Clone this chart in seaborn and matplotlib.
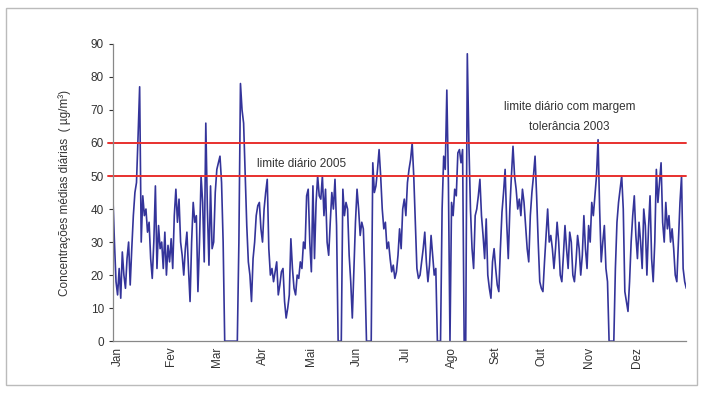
import numpy as np
import pandas as pd
import matplotlib
matplotlib.use("Agg")
import matplotlib.pyplot as plt
import seaborn as sns
from matplotlib.patches import Rectangle

months = ["Jan", "Fev", "Mar", "Abr", "Mai", "Jun", "Jul", "Ago", "Set", "Out", "Nov", "Dez"]

jan = [44, 30, 18, 14, 22, 13, 27, 20, 16, 25, 30, 17, 28, 38, 45, 48, 62, 77, 30, 44,
       38, 40, 33, 36, 25, 19, 30, 47, 22, 35, 28]
fev = [30, 22, 33, 20, 29, 24, 31, 22, 38, 46, 36, 43, 30, 26, 20, 28, 33, 22, 12, 30,
       42, 36, 38, 15, 30, 50, 42, 24]
mar = [66, 40, 23, 47, 28, 30, 45, 52, 54, 56, 48, 30, 0, 0, 0, 0, 0, 0, 0, 0,
       0, 30, 78, 70, 66, 50, 35, 24, 20, 12, 25]
abr = [30, 38, 41, 42, 34, 30, 40, 45, 49, 28, 20, 22, 18, 21, 24, 14, 17, 21, 22, 12,
       7, 10, 14, 31, 22, 16, 14, 20, 19, 24]
mai = [22, 30, 28, 44, 46, 30, 21, 47, 25, 42, 50, 44, 43, 50, 38, 46, 30, 26, 36, 45,
       40, 49, 35, 0, 0, 0, 46, 38, 42, 40, 26]
jun = [18, 7, 22, 36, 46, 40, 32, 36, 34, 20, 0, 0, 0, 0, 54, 45, 47, 52, 58, 50,
       40, 34, 36, 28, 30, 25, 21, 23, 19, 21]
jul = [26, 34, 28, 40, 43, 38, 48, 52, 55, 60, 50, 36, 22, 19, 20, 24, 28, 33, 24, 18,
       23, 32, 26, 20, 22, 0, 0, 0, 40, 56, 52]
ago = [76, 48, 0, 42, 38, 46, 44, 57, 58, 54, 58, 0, 0, 87, 60, 40, 28, 22, 38, 40,
       44, 49, 38, 32, 25, 37, 20, 16, 13, 24, 28]
set_ = [22, 17, 15, 28, 39, 45, 52, 36, 25, 40, 50, 59, 50, 46, 40, 43, 38, 46, 42, 35,
        28, 24, 38, 45, 50, 56, 44, 30, 18, 16]
out = [15, 24, 32, 40, 30, 32, 28, 22, 28, 36, 30, 20, 18, 26, 35, 28, 22, 33, 30, 20,
       18, 24, 32, 28, 20, 26, 38, 28, 22, 35, 30]
nov = [42, 38, 44, 50, 61, 40, 24, 30, 35, 22, 18, 0, 0, 0, 0, 22, 36, 42, 46, 50,
       40, 15, 12, 9, 18, 30, 38, 44, 32, 25]
dez = [36, 30, 22, 40, 35, 20, 34, 44, 25, 18, 30, 52, 42, 48, 54, 36, 30, 42, 34, 38,
       30, 34, 28, 20, 18, 30, 42, 50, 22, 18, 16]

month_data = [jan, fev, mar, abr, mai, jun, jul, ago, set_, out, nov, dez]
values = [v for m in month_data for v in m]

limit_2005 = 50
limit_2003 = 60

# label positions (day index) as placed on the original axis
label_days = [3, 37, 66, 95, 126, 155, 186, 215, 243, 272, 302, 333]

df = pd.DataFrame({"dia": np.arange(len(values)), "valor": values})

sns.set_theme(style="white")
plt.rcParams["font.family"] = ["Liberation Sans", "DejaVu Sans"]

fig = plt.figure(figsize=(7.01, 3.99), dpi=100)
fig.patch.set_facecolor("white")
ax = fig.add_axes([0.161, 0.145, 0.818, 0.745])

sns.lineplot(data=df, x="dia", y="valor", ax=ax, color="#34349a", linewidth=1.2)

n = len(values)
ax.axhline(limit_2003, xmin=-0.008, xmax=1.0, color="#e8302e", linewidth=1.4, clip_on=False)
ax.axhline(limit_2005, xmin=-0.008, xmax=1.0, color="#e8302e", linewidth=1.4, clip_on=False)

ax.set_xlim(0, n - 1)
ax.set_ylim(0, 90)
ax.set_yticks(range(0, 91, 10))
ax.set_xticks(label_days)
ax.set_xticklabels(months, rotation=90, fontsize=8.5, color="#333333")
ax.tick_params(axis="y", labelsize=8.5, colors="#333333", length=3, width=0.8, direction="out", left=True)
ax.tick_params(axis="x", length=0, pad=4)
for lab in ax.get_xticklabels():
    lab.set_horizontalalignment("center")

for side in ["top", "right"]:
    ax.spines[side].set_visible(False)
for side in ["left", "bottom"]:
    ax.spines[side].set_color("#888888")
    ax.spines[side].set_linewidth(0.9)

ax.set_xlabel("")
ax.set_ylabel("Concentrações médias diárias  ( µg/m³)", fontsize=8.5, color="#333333", labelpad=14)

ax.text(120, 53.5, "limite diário 2005", fontsize=8.5, color="#333333", ha="center", va="center")
ax.text(290, 71, "limite diário com margem", fontsize=8.5, color="#333333", ha="center", va="center")
ax.text(290, 64.8, "tolerância 2003", fontsize=8.5, color="#333333", ha="center", va="center")

fig.patches.append(Rectangle((0.009, 0.035), 0.985, 0.945, transform=fig.transFigure,
                             fill=False, edgecolor="#bbbbbb", linewidth=1.0))

fig.savefig("out.png", dpi=100)
